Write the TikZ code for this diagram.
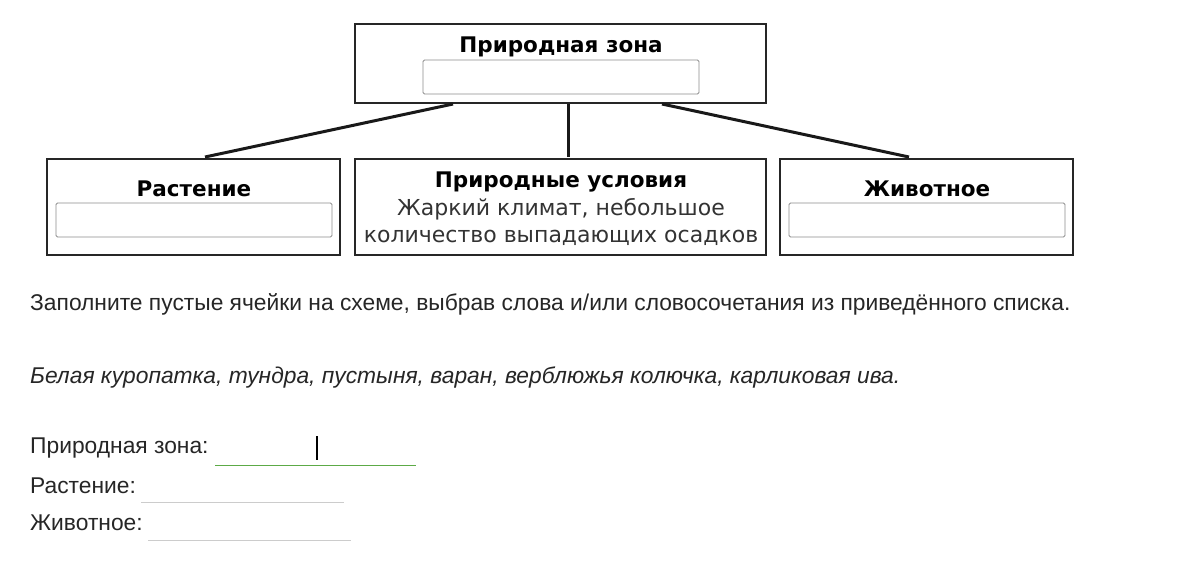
\documentclass[tikz,border=0pt]{standalone}
\usepackage{fontspec}
\setmainfont{Liberation Sans}
\newfontfamily\verd{DejaVu Sans}
\usetikzlibrary{positioning}
\definecolor{okgreen}{RGB}{92,170,70}
\tikzset{
x=1pt, y=-1pt, % pixel grid of the reference
box/.style={draw=black!85, line width=1.2pt, inner sep=0pt},
field/.style={draw=black!45, line width=0.8pt, rounded corners=1.5pt, inner sep=0pt},
head/.style={font=\verd\bfseries\fontsize{21.5}{24}\selectfont, inner sep=0pt},
plain/.style={font=\verd\fontsize{22}{27}\selectfont, align=center, text=black!80, inner sep=0pt},
link/.style={line width=3pt, black!90},
txt/.style={font=\fontsize{22.8}{26}\selectfont, text=black!85, anchor=west, inner sep=0pt},
}
\begin{document}
\begin{tikzpicture}
    \useasboundingbox[fill=white] (0,0) rectangle (1199,566);
    % boxes of the scheme
    \node[box, minimum width=411pt, minimum height=79pt] (zone) at (560.5,63.5) {};
    \node[box, minimum width=293pt, minimum height=96pt] (plant) at (193.5,207) {};
    \node[box, minimum width=411pt, minimum height=96pt] (cond) at (560.5,207) {};
    \node[box, minimum width=293pt, minimum height=96pt] (animal) at (926.5,207) {};
    \node[field, minimum width=276pt, minimum height=34pt] (zonefield) at (561,77) {};
    \node[field, minimum width=276pt, minimum height=34pt] (plantfield) at (194,220) {};
    \node[field, minimum width=276pt, minimum height=34pt] (animalfield) at (927,220) {};
    \node[head] (zonehead) at (561,47) {Природная зона};
    \node[head] (planthead) at (194,189) {Растение};
    \node[head] (condhead) at (561,182) {Природные условия};
    \node[head] (animalhead) at (927,189) {Животное};
    \node[plain, below=6pt of condhead] (condtext) {Жаркий климат, небольшое\\количество выпадающих осадков};
    % connectors
    \coordinate (zl) at (453,104);
    \coordinate (zm) at (568,104);
    \coordinate (zr) at (662,104);
    \coordinate (pl) at (205,157);
    \coordinate (cm) at (568,157);
    \coordinate (ar) at (909,157);
    \draw[link] (zl) -- (pl);
    \draw[link] (zm) -- (cm);
    \draw[link] (zr) -- (ar);
    % task text
    \node[txt] (task) at (30,304) {Заполните пустые ячейки на схеме, выбрав слова и/или словосочетания из приведённого списка.};
    \node[txt, font=\itshape\fontsize{22.8}{26}\selectfont] (list) at (30,377) {Белая куропатка, тундра, пустыня, варан, верблюжья колючка, карликовая ива.};
    \node[txt] (ans1) at (30,448) {Природная зона:};
    \node[txt] (ans2) at (30,486) {Растение:};
    \node[txt] (ans3) at (30,523) {Животное:};
    \coordinate (l1a) at (215,465); \coordinate (l1b) at (416,465);
    \coordinate (l2a) at (141,502); \coordinate (l2b) at (344,502);
    \coordinate (l3a) at (148,540); \coordinate (l3b) at (351,540);
    \coordinate (ca) at (317,436); \coordinate (cb) at (317,460);
    \draw[okgreen, line width=1pt] (l1a) -- (l1b);
    \draw[black!20, line width=0.8pt] (l2a) -- (l2b);
    \draw[black!20, line width=0.8pt] (l3a) -- (l3b);
    \draw[black, line width=1.2pt] (ca) -- (cb);
\end{tikzpicture}
\end{document}
